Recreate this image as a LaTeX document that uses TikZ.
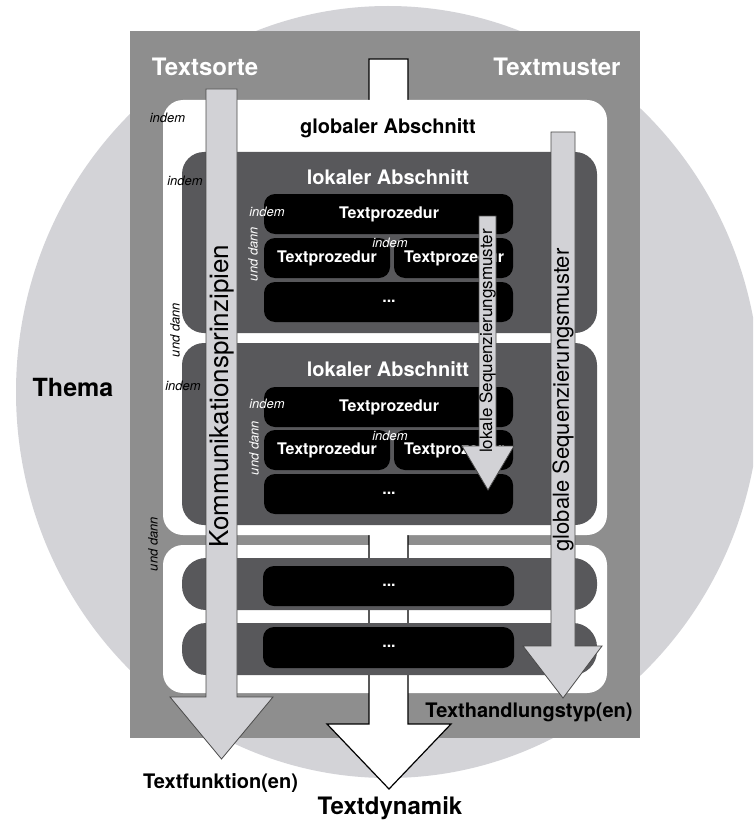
\documentclass[tikz,border=0pt]{standalone}
\usepackage{fontspec}
\setmainfont{TeX Gyre Heros}
\definecolor{circ}{HTML}{D3D3D7}
\definecolor{framegray}{HTML}{8E8E8E}
\definecolor{darkbox}{HTML}{58585B}
\definecolor{arrfill}{HTML}{D2D2D6}
\definecolor{arrline}{HTML}{4A4A4A}
\newcommand{\myfs}[1]{\fontsize{#1}{#1}\selectfont}
\begin{document}
\begin{tikzpicture}[x=1pt,y=-1pt,
  lbl/.style={inner sep=0pt, outer sep=0pt, anchor=center},
  headw/.style={lbl, text=white, font=\myfs{24}\bfseries},
  secb/.style={lbl, font=\myfs{20}\bfseries},
  procw/.style={lbl, text=white, font=\myfs{16}\bfseries},
  smallw/.style={lbl, text=white, font=\myfs{13}\itshape},
  smallb/.style={lbl, text=black, font=\myfs{13}\itshape},
  outb/.style={lbl, text=black, font=\myfs{20}\bfseries},
  blackbox/.style={fill=black, rounded corners=11pt},
  darkrow/.style={fill=darkbox, rounded corners=22pt},
  greyarrow/.style={fill=arrfill, draw=arrline, line width=0.8pt, line join=miter}]
\clip (0,0) rectangle (753,821);
% background ellipse and frame
\fill[circ] (388,392) ellipse [x radius=372pt, y radius=386pt];
\fill[framegray] (130,31) rectangle (640,738);
% second global section
\fill[white, rounded corners=20pt] (163,545) rectangle (607,693);
% Textdynamik arrow
\filldraw[fill=white, draw=black, line width=1.2pt, line join=miter]
  (369,59) -- (408,59) -- (408,724) -- (451,724) -- (389,789) -- (327,724) -- (369,724) -- cycle;
% first global section
\fill[white, rounded corners=20pt] (163,100) rectangle (607,535);
% local sections
\fill[darkrow] (182,152) rectangle (597,333);
\fill[darkrow] (182,343) rectangle (597,525);
\fill[darkbox, rounded corners=24pt] (182,558) rectangle (597,610);
\fill[darkbox, rounded corners=24pt] (182,623) rectangle (597,675);
% procedure boxes, local 1
\fill[blackbox] (264,194) rectangle (513,234);
\fill[blackbox] (264,238) rectangle (390,278);
\fill[blackbox] (394,238) rectangle (513,278);
\fill[blackbox] (264,282) rectangle (513,322);
% procedure boxes, local 2
\fill[blackbox] (264,387) rectangle (513,427);
\fill[blackbox] (264,430) rectangle (390,470);
\fill[blackbox] (394,430) rectangle (513,470);
\fill[blackbox] (264,474) rectangle (513,514);
% boxes in second global section
\fill[blackbox] (263,566) rectangle (514,606);
\fill[blackbox] (263,627) rectangle (514,668);
% section titles
\node[headw] (tsorte) at (205,67) {Textsorte};
\node[headw] (tmuster) at (557,67) {Textmuster};
\node[secb] (glob) at (388,128) {globaler Abschnitt};
\node[secb, text=white] (lok1) at (388,177) {lokaler Abschnitt};
\node[secb, text=white] (lok2) at (388,369) {lokaler Abschnitt};
% procedures local 1
\node[procw] (p1a) at (389,214) {Textprozedur};
\node[procw] (p1b) at (327,258) {Textprozedur};
\node[procw] (p1c) at (454,258) {Textprozedur};
\node[procw] (p1d) at (389,301) {...};
% procedures local 2
\node[procw] (p2a) at (389,407) {Textprozedur};
\node[procw] (p2b) at (327,450) {Textprozedur};
\node[procw] (p2c) at (454,450) {Textprozedur};
\node[procw] (p2d) at (389,493) {...};
\node[procw] (p3) at (389,585) {...};
\node[procw] (p4) at (389,646) {...};
% small connector words
\node[smallw] (i1a) at (267,212) {indem};
\node[smallw] (i1b) at (390,243) {indem};
\node[smallw, rotate=90] (u1) at (253,254) {und dann};
\node[smallw] (i2a) at (267,404) {indem};
\node[smallw] (i2b) at (390,436) {indem};
\node[smallw, rotate=90] (u2) at (254,448) {und dann};
\node[smallb] (ig1) at (167.5,118) {indem};
\node[smallb] (il1) at (185,181) {indem};
\node[smallb, rotate=90] (ug1) at (175,330) {und dann};
\node[smallb] (il2) at (183,386) {indem};
\node[smallb, rotate=90] (ug2) at (153,544) {und dann};
% Kommunikationsprinzipien arrow
\filldraw[greyarrow] (206,89) -- (237,89) -- (237,697) -- (273,697) -- (221.5,759) -- (170,697) -- (206,697) -- cycle;
\node[lbl, rotate=90, font=\myfs{26}] (komm) at (221.5,396) {Kommunikationsprinzipien};
% globale Sequenzierungsmuster arrow
\filldraw[greyarrow] (551,132) -- (575,132) -- (575,646) -- (602,646) -- (563,698) -- (523,646) -- (551,646) -- cycle;
\node[lbl, rotate=90, font=\myfs{22}] (gseq) at (563,400) {globale Sequenzierungsmuster};
% lokale Sequenzierungsmuster arrow
\filldraw[greyarrow] (479,216) -- (496,216) -- (496,446) -- (514,446) -- (488,490) -- (462,446) -- (479,446) -- cycle;
\node[lbl, rotate=90, font=\myfs{17}] (lseq) at (487.5,341) {lokale Sequenzierungsmuster};
% outer labels
\node[lbl, font=\myfs{25}\bfseries] (thema) at (73,387) {Thema};
\node[outb] (tfunk) at (220.5,783) {Textfunktion(en)};
\node[lbl, font=\myfs{24}\bfseries] (tdyn) at (390,808) {Textdynamik};
\node[outb] (thand) at (529,712) {Texthandlungstyp(en)};
\end{tikzpicture}
\end{document}
